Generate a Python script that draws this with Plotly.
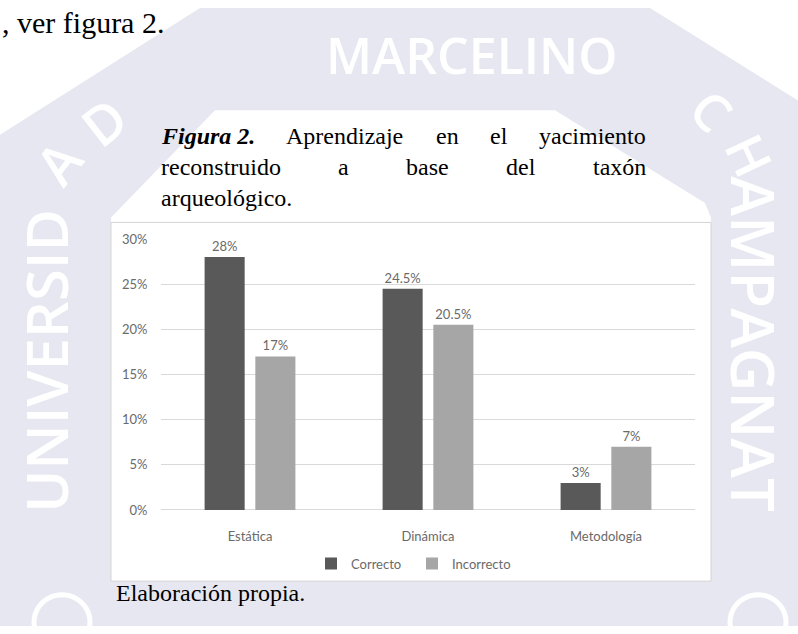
import plotly.graph_objects as go

# ---- data ----
categories = ["Estática", "Dinámica", "Metodología"]
series_names = ["Correcto", "Incorrecto"]
correcto = [28, 24.5, 3]
incorrecto = [17, 20.5, 7]
y_ticks = [0, 5, 10, 15, 20, 25, 30]
y_tick_labels = ["0%", "5%", "10%", "15%", "20%", "25%", "30%"]

W, H = 798, 634
LAV = "#e6e7f0"
GREY_TXT = "#6a6a6a"


def px(x):
    return x / W


def py(y):
    return 1 - y / H


def path(points):
    return "M " + " L ".join(f"{px(x):.5f},{py(y):.5f}" for x, y in points) + " Z"


def circle_path(cx, cy, r, n=48):
    import math
    pts = [(cx + r * math.cos(2 * math.pi * k / n), cy + r * math.sin(2 * math.pi * k / n)) for k in range(n)]
    return path(pts)


fig = go.Figure()
fig.add_trace(go.Bar(
    x=categories, y=correcto, name=series_names[0],
    marker=dict(color="#595959", line=dict(width=0)),
    texttemplate="%{y}%", textposition="outside",
    textfont=dict(family="Lato", size=13, color=GREY_TXT),
    cliponaxis=False,
))
fig.add_trace(go.Bar(
    x=categories, y=incorrecto, name=series_names[1],
    marker=dict(color="#a6a6a6", line=dict(width=0)),
    texttemplate="%{y}%", textposition="outside",
    textfont=dict(family="Lato", size=13, color=GREY_TXT),
    cliponaxis=False,
))

BOX_B = 588
shapes = [
    dict(type="path", xref="paper", yref="paper", layer="below",
         path=path([(200, 0), (650, 0), (798, 95), (798, 634), (0, 634), (0, 130)]),
         fillcolor=LAV, line=dict(width=0)),
    dict(type="path", xref="paper", yref="paper", layer="below",
         path=path([(111, 215), (215, 105), (555, 105), (705, 200), (711, 215), (711, BOX_B), (111, BOX_B)]),
         fillcolor="white", line=dict(width=0)),
    dict(type="rect", xref="paper", yref="paper", layer="below",
         x0=px(111), x1=px(711), y0=py(BOX_B), y1=py(220),
         fillcolor="white", line=dict(color="#d4d4d4", width=1)),
    dict(type="path", xref="paper", yref="paper", layer="below",
         path=circle_path(62, 630, 28), fillcolor="rgba(0,0,0,0)", line=dict(color="white", width=5)),
    dict(type="path", xref="paper", yref="paper", layer="below",
         path=circle_path(758, 630, 28), fillcolor="rgba(0,0,0,0)", line=dict(color="white", width=5)),
]

ann = []
wm = dict(family="Open Sans", color="white", weight=600)
ann.append(dict(text="MARCELINO", x=px(472), y=py(48), font=dict(size=50, **wm)))
ann.append(dict(text="UNIVERSID", x=px(46), y=py(362), textangle=-90, font=dict(size=58, **wm)))
ann.append(dict(text="A", x=px(58), y=py(158), textangle=-52, font=dict(size=54, **wm)))
ann.append(dict(text="D", x=px(104), y=py(116), textangle=-38, font=dict(size=54, **wm)))
ann.append(dict(text="AMPAGNAT", x=px(754), y=py(345), textangle=90, font=dict(size=60, **wm)))
ann.append(dict(text="H", x=px(750), y=py(150), textangle=65, font=dict(size=52, **wm)))
ann.append(dict(text="C", x=px(712), y=py(104), textangle=45, font=dict(size=52, **wm)))

FS = 24
serif = dict(family="Liberation Serif", size=FS, color="black")
# Times metrics (em) for justification of the caption
TM = {"a": .444, "b": .5, "c": .444, "d": .5, "e": .444, "g": .5, "i": .278, "j": .278, "l": .278,
      "m": .778, "n": .5, "o": .5, "p": .5, "q": .5, "r": .333, "s": .389, "t": .278, "u": .5,
      "x": .5, "y": .5, "z": .444, "ó": .5, "A": .722, ".": .25, "2": .5, " ": .25}
BI = {"F": .667, "i": .278, "g": .5, "u": .556, "r": .389, "a": .5, " ": .25, "2": .5, ".": .25}


def wwidth(word, table):
    return sum(table.get(ch, .5) for ch in word) * FS


def justify(x0, x1, widths):
    gap = (x1 - x0 - sum(widths)) / (len(widths) - 1)
    xs, x = [], x0
    for w in widths:
        xs.append(x)
        x += w + gap
    return xs


L, R = 160, 645
line1 = ["Figura 2.", "Aprendizaje", "en", "el", "yacimiento"]
w1 = [wwidth(line1[0], BI)] + [wwidth(w, TM) for w in line1[1:]]
x1s = justify(L, R, w1)
line1_txt = ["<b><i>Figura 2.</i></b>"] + line1[1:]
line2 = ["reconstruido", "a", "base", "del", "taxón"]
w2 = [wwidth(w, TM) for w in line2]
x2s = justify(L, R, w2)
for t, x in zip(line1_txt, x1s):
    ann.append(dict(text=t, x=px(x), y=py(131), xanchor="left", font=serif))
for t, x in zip(line2, x2s):
    ann.append(dict(text=t, x=px(x), y=py(163), xanchor="left", font=serif))
ann.append(dict(text="arqueológico.", x=px(L), y=py(195), xanchor="left", font=serif))
ann.append(dict(text="Elaboración propia.", x=px(115), y=py(600), xanchor="left", font=serif))
ann.append(dict(text=", ver figura 2.", x=px(1), y=py(15), xanchor="left",
                font=dict(family="Liberation Serif", size=30, color="black")))

for a in ann:
    a.setdefault("xref", "paper")
    a.setdefault("yref", "paper")
    a.setdefault("showarrow", False)
    a.setdefault("xanchor", "center")
    a.setdefault("yanchor", "middle")
    a.setdefault("borderpad", 0)

fig.update_layout(
    width=W, height=H,
    margin=dict(l=0, r=0, t=0, b=0),
    paper_bgcolor="white",
    plot_bgcolor="rgba(0,0,0,0)",
    barmode="group",
    bargap=0.43,
    bargroupgap=0.21,
    shapes=shapes,
    annotations=ann,
    showlegend=True,
    legend=dict(orientation="h", x=px(412), xanchor="center", y=py(570), yanchor="middle",
                font=dict(family="Lato", size=13, color=GREY_TXT),
                bgcolor="rgba(0,0,0,0)", itemwidth=30, traceorder="normal",
                entrywidth=56, entrywidthmode="pixels"),
    xaxis=dict(domain=[px(161), px(695)], showline=False, showgrid=False,
               ticks="outside", ticklen=14, tickcolor="rgba(0,0,0,0)",
               tickfont=dict(family="Lato", size=13, color=GREY_TXT)),
    yaxis=dict(domain=[py(515), py(237)], range=[0, 30],
               tickvals=y_ticks, ticktext=y_tick_labels,
               showgrid=True, gridcolor="#d9d9d9", gridwidth=1,
               zeroline=True, zerolinecolor="#d9d9d9", zerolinewidth=1,
               showline=False, ticks="outside", ticklen=10, tickcolor="rgba(0,0,0,0)",
               tickfont=dict(family="Lato", size=13, color=GREY_TXT)),
)

fig.write_html("out.html", config={"displayModeBar": False},
               post_script="document.body.style.margin='0px';")
